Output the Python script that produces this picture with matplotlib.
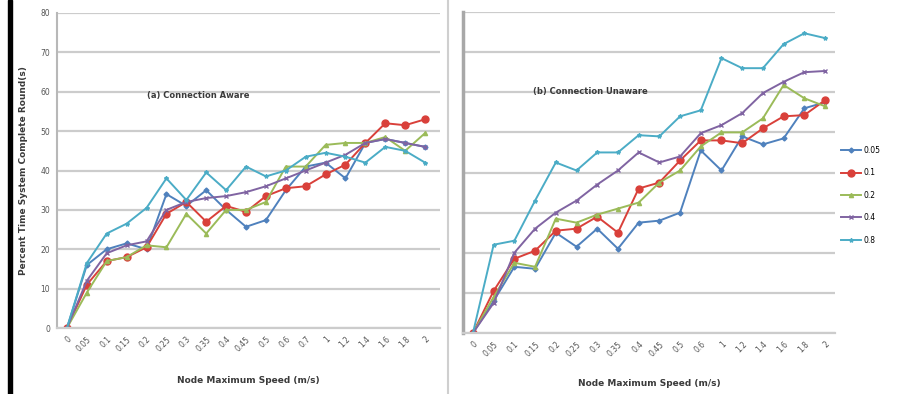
import matplotlib
matplotlib.use("Agg")
import matplotlib.pyplot as plt
from matplotlib.patches import Rectangle
from matplotlib.lines import Line2D

# ---------------- data ----------------
labels_a = ['0', '0.05', '0.1', '0.15', '0.2', '0.25', '0.3', '0.35', '0.4', '0.45',
            '0.5', '0.6', '0.7', '1', '1.2', '1.4', '1.6', '1.8', '2']
labels_b = ['0', '0.05', '0.1', '0.15', '0.2', '0.25', '0.3', '0.35', '0.4', '0.45',
            '0.5', '0.6', '1', '1.2', '1.4', '1.6', '1.8', '2']

series_names = ['0.05', '0.1', '0.2', '0.4', '0.8']

# (a) Connection Aware
a_005 = [0, 16, 20, 21.5, 20, 34, 31, 35, 30, 25.7, 27.4, 35, 41, 42, 38, 47, 48, 47, 46]
a_01 = [0, 11, 17, 18, 20.5, 29, 32, 27, 31, 29.5, 33.5, 35.5, 36, 39, 41.5, 47, 52, 51.5, 53]
a_02 = [0, 9, 17, 18, 21, 20.5, 29, 24, 30, 30, 32, 41, 41, 46.5, 47, 47, 48.5, 45, 49.5]
a_04 = [0, 12, 19, 21, 22, 30, 32, 33, 33.5, 34.5, 36, 38, 40, 42, 44, 47, 48, 47, 46]
a_08 = [0, 16.5, 24, 26.5, 30.5, 38, 32.5, 39.5, 35, 41, 38.5, 40, 43.5, 44.5, 43.5, 42, 46, 45, 42]

# (b) Connection Unaware
b_005 = [0, 8, 16.5, 16, 25, 21.5, 26, 21, 27.5, 28, 30, 45.5, 40.5, 49, 47, 48.5, 56, 57.5]
b_01 = [0, 10.5, 18.5, 20.5, 25.5, 26, 29, 25, 36, 37.5, 43, 48, 48, 47.3, 51, 54, 54.3, 58]
b_02 = [0, 9, 17.5, 16.5, 28.5, 27.5, 29.5, 31, 32.5, 37.5, 40.5, 46.5, 50, 50, 53.5, 61.8, 58.5, 56.5]
b_04 = [0, 7.5, 20, 26, 30, 33, 37, 40.5, 45, 42.5, 44, 49.8, 51.8, 54.8, 59.8, 62.6, 65, 65.3]
b_08 = [0, 22, 23, 33, 42.5, 40.5, 45, 45, 49.3, 49, 54, 55.5, 68.5, 66, 66, 72, 74.7, 73.5]

y_ticks = [0, 10, 20, 30, 40, 50, 60, 70, 80]

# ---------------- style ----------------
colors = ['#4F81BD', '#D9403A', '#9BBB59', '#8064A2', '#4BACC6']
markers = ['D', 'o', '^', 'x', '*']
msizes = [2.5, 5, 3, 3, 3]
lw = 1.4
grid_c = '#cccccc'
txt_c = '#3a3a3a'

fig = plt.figure(figsize=(8.97, 3.94), dpi=100)
W, H = 897.0, 394.0

def ax_rect(x0, x1, ytop, ybot):
    return [x0 / W, (H - ybot) / H, (x1 - x0) / W, (ybot - ytop) / H]

ax1 = fig.add_axes(ax_rect(57, 440, 13, 328))
ax2 = fig.add_axes(ax_rect(463, 835, 12, 333))

def style(ax, labels, xlim, show_ylabels):
    ax.set_ylim(0, 80)
    ax.set_xlim(*xlim)
    ax.set_yticks(y_ticks)
    ax.set_xticks(range(len(labels)))
    ax.set_xticklabels(labels, rotation=45, ha='right', rotation_mode='anchor',
                       fontsize=5.5, color='#555555')
    if show_ylabels:
        ax.set_yticklabels([str(v) for v in y_ticks], fontsize=5.5, color='#555555')
    else:
        ax.set_yticklabels([])
    ax.tick_params(axis='both', length=0, pad=5)
    ax.grid(axis='y', color=grid_c, linewidth=1.6)
    ax.set_axisbelow(True)
    for s in ['top', 'right']:
        ax.spines[s].set_visible(False)
    ax.spines['bottom'].set_color(grid_c)
    ax.spines['bottom'].set_linewidth(1.6)
    ax.spines['left'].set_color('#b8b8b8')
    ax.spines['left'].set_linewidth(1.5)

style(ax1, labels_a, (-0.5, 18.75), True)
style(ax2, labels_b, (-0.48, 17.48), False)
ax2.spines['left'].set_linewidth(2.5)
ax2.spines['left'].set_color('#a8a8a8')

data_a = [a_005, a_01, a_02, a_04, a_08]
data_b = [b_005, b_01, b_02, b_04, b_08]

handles = []
for k in range(5):
    ax1.plot(range(len(data_a[k])), data_a[k], color=colors[k], marker=markers[k],
             markersize=msizes[k], linewidth=lw)
    h, = ax2.plot(range(len(data_b[k])), data_b[k], color=colors[k], marker=markers[k],
                  markersize=msizes[k], linewidth=lw)
    handles.append(h)

ax1.text(4.0, 59, '(a) Connection Aware', fontsize=6, color=txt_c,
         ha='left', va='center', fontweight='bold')
ax2.text(2.9, 60.3, '(b) Connection Unaware', fontsize=6, color=txt_c,
         ha='left', va='center', fontweight='bold')

ax1.set_ylabel('Percent Time System Complete Round(s)', fontsize=6.5,
               fontweight='bold', color=txt_c, labelpad=9)
ax1.set_xlabel('Node Maximum Speed (m/s)', fontsize=6.5, fontweight='bold',
               color=txt_c, labelpad=16)
ax2.set_xlabel('Node Maximum Speed (m/s)', fontsize=6.5, fontweight='bold',
               color=txt_c, labelpad=15)

fig.legend(handles, series_names, loc='upper left',
           bbox_to_anchor=(838 / W, (H - 143) / H), frameon=False,
           fontsize=5.5, labelspacing=1.75, handlelength=2.6,
           handletextpad=0.3, borderaxespad=0)

# black border bar at the far left and separator between panels
fig.patches.append(Rectangle((8 / W, 0), 4 / W, 1, transform=fig.transFigure,
                             color='black', zorder=5))
fig.add_artist(Line2D([448 / W, 448 / W], [0, 1], color='#cfcfcf', linewidth=1.5,
                      transform=fig.transFigure))

fig.savefig('out.png', dpi=100)
